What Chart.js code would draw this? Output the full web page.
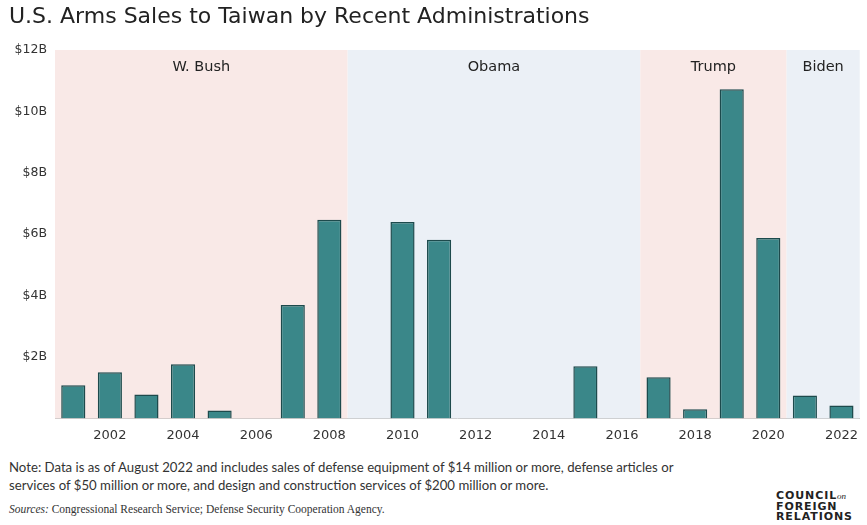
<!DOCTYPE html>
<html>
<head>
<meta charset="utf-8">
<script src="https://cdn.jsdelivr.net/npm/chart.js@4"></script>
<style>
  body { margin: 0; background: #fff; font-family: Lato, "DejaVu Sans", sans-serif; }
  #wrap { position: relative; width: 867px; height: 525px; overflow: hidden; }
  #title { position: absolute; left: 9px; top: 3px; font-size: 22px; color: #222; font-family: "DejaVu Sans", sans-serif; }
  #chartBox { position: absolute; left: 0; top: 0; width: 867px; height: 452px; }
  #note { position: absolute; left: 9px; top: 458px; font-size: 13.2px; color: #333; line-height: 18px; }
  #sources { position: absolute; left: 9px; top: 503px; font-size: 11.5px; color: #333; font-family: "Liberation Serif", serif; }
  #logo { position: absolute; left: 776px; top: 491px; font-size: 11px; font-weight: 800; color: #222; line-height: 10.5px; letter-spacing: 0.9px; font-family: "DejaVu Sans", sans-serif; }
  #logo i { font-family: "Liberation Serif", serif; font-weight: 400; font-size: 9px; letter-spacing: 0; }
</style>
</head>
<body>
<div id="wrap">
  <div id="chartBox"><canvas id="myChart"></canvas></div>
  <div id="title">U.S. Arms Sales to Taiwan by Recent Administrations</div>
  <div id="note">Note: Data is as of August 2022 and includes sales of defense equipment of $14 million or more, defense articles or<br>services of $50 million or more, and design and construction services of $200 million or more.</div>
  <div id="sources"><i>Sources:</i> Congressional Research Service; Defense Security Cooperation Agency.</div>
  <div id="logo">COUNCIL<i>on</i><br>FOREIGN<br>RELATIONS</div>
</div>
<script>
const years = ['2001','2002','2003','2004','2005','2006','2007','2008','2009','2010','2011',
  '2012','2013','2014','2015','2016','2017','2018','2019','2020','2021','2022'];
// sales in billions of dollars
const sales = [1.08, 1.5, 0.78, 1.76, 0.26, 0, 3.69, 6.47, 0, 6.4, 5.82,
  0, 0, 0, 1.7, 0, 1.34, 0.3, 10.72, 5.88, 0.75, 0.42];
const administrations = ['W. Bush', 'Obama', 'Trump', 'Biden'];
const adminFirstYear = ['2001', '2009', '2017', '2021'];
const adminLastYear = ['2008', '2016', '2020', '2022'];
const adminColors = ['#f9e9e7', '#ebf0f6', '#f9e9e7', '#ebf0f6'];
const yTicks = [0, 2, 4, 6, 8, 10, 12];

const wideFont = '"DejaVu Sans", sans-serif';

const bands = {
  id: 'bands',
  beforeDatasetsDraw(chart) {
    const { ctx, chartArea, scales } = chart;
    const x = scales.x, y = scales.y;
    ctx.save();
    administrations.forEach((name, i) => {
      const a = years.indexOf(adminFirstYear[i]);
      const b = years.indexOf(adminLastYear[i]);
      const left = i == 0 ? chartArea.left : (x.getPixelForValue(a - 1) + x.getPixelForValue(a)) / 2;
      const right = i == administrations.length - 1 ? chartArea.right : (x.getPixelForValue(b) + x.getPixelForValue(b + 1)) / 2;
      const top = y.getPixelForValue(12);
      ctx.fillStyle = adminColors[i];
      ctx.fillRect(left, top, right - left, y.getPixelForValue(0) - top);
      ctx.fillStyle = '#222';
      ctx.font = '14.5px ' + wideFont;
      ctx.textAlign = 'center';
      ctx.textBaseline = 'middle';
      ctx.fillText(name, (left + right) / 2, top + 17);
    });
    ctx.restore();
  }
};

new Chart(document.getElementById('myChart'), {
  type: 'bar',
  data: {
    labels: years,
    datasets: [{
      data: sales,
      backgroundColor: '#3a8789',
      borderColor: '#1d4a4c',
      borderWidth: 1.5,
      categoryPercentage: 1,
      barPercentage: 0.66
    }]
  },
  plugins: [bands],
  options: {
    responsive: true,
    maintainAspectRatio: false,
    animation: false,
    layout: { padding: { top: 50, right: 0, left: 0, bottom: 0 } },
    plugins: { legend: { display: false }, tooltip: { enabled: false } },
    scales: {
      x: {
        grid: { display: false, drawTicks: false },
        border: { display: true, color: '#bbb', width: 1 },
        ticks: {
          color: '#333',
          font: { size: 13, family: wideFont },
          autoSkip: false,
          maxRotation: 0,
          padding: 9,
          callback: (v, i) => (Number(years[i]) % 2 == 0 ? years[i] : '')
        }
      },
      y: {
        min: 0,
        max: 12,
        afterBuildTicks: (axis) => { axis.ticks = yTicks.map(v => ({ value: v })); },
        grid: { display: false, drawTicks: false },
        border: { display: false },
        afterFit: (axis) => { axis.width = 55; },
        ticks: {
          color: '#333',
          font: { size: 12.5, family: wideFont },
          padding: 8,
          callback: (v) => (v == 0 ? '' : '$' + v + 'B')
        }
      }
    }
  }
});
</script>
</body>
</html>
